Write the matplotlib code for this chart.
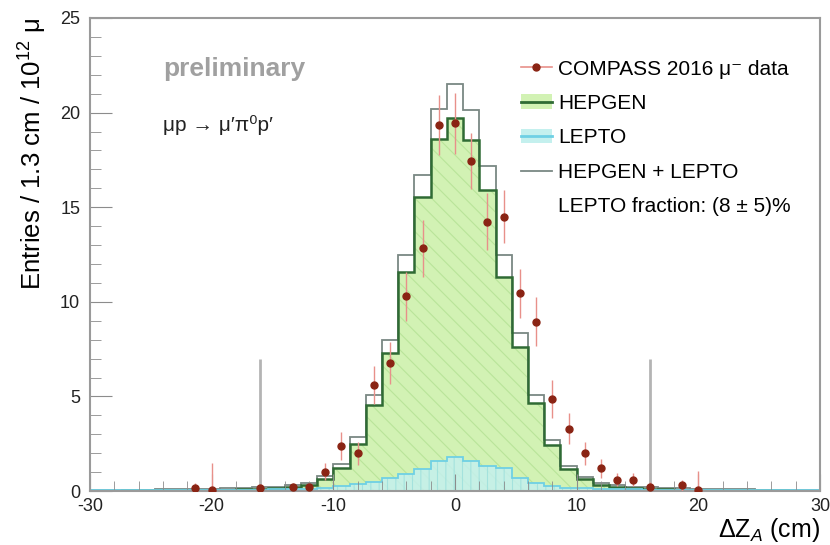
import numpy as np
import matplotlib
matplotlib.use("Agg")
import matplotlib.pyplot as plt
from matplotlib.lines import Line2D
from matplotlib.patches import Patch
from matplotlib.ticker import MultipleLocator

plt.rcParams['font.family'] = ['Liberation Sans', 'DejaVu Sans']
plt.rcParams['mathtext.fontset'] = 'custom'
plt.rcParams['mathtext.rm'] = 'Liberation Sans'
plt.rcParams['mathtext.it'] = 'Liberation Sans:italic'
plt.rcParams['axes.unicode_minus'] = False
plt.rcParams['hatch.linewidth'] = 0.8

# 45 bins over -30..30 cm (about 1.3 cm each)
edges = np.linspace(-30, 30, 46)
centers = 0.5 * (edges[1:] + edges[:-1])

hepgen = [0.02, 0.02, 0.03, 0.03, 0.04, 0.05, 0.05, 0.06, 0.08, 0.10, 0.12, 0.15, 0.20,
          0.30, 0.62, 1.20, 2.50, 4.55, 7.30, 11.55, 15.55, 18.60, 19.70, 18.55, 15.90,
          11.30, 7.63, 4.63, 2.43, 1.15, 0.62, 0.30, 0.20, 0.15, 0.12, 0.10, 0.08, 0.06,
          0.05, 0.05, 0.04, 0.03, 0.03, 0.02, 0.02]
lepto = [0.03, 0.04, 0.04, 0.05, 0.05, 0.06, 0.06, 0.07, 0.07, 0.08, 0.08, 0.09, 0.10,
         0.12, 0.15, 0.25, 0.35, 0.50, 0.70, 0.90, 1.15, 1.60, 1.80, 1.60, 1.30,
         1.20, 0.70, 0.45, 0.25, 0.17, 0.14, 0.12, 0.10, 0.09, 0.08, 0.08, 0.07, 0.07,
         0.06, 0.06, 0.05, 0.05, 0.04, 0.04, 0.03]
data = [None, None, None, None, None, None, 0.15, 0.08, None, None, 0.15, None, 0.22,
        0.22, 1.02, 2.37, 2.00, 5.62, 6.78, 10.30, 12.83, 19.35, 19.43, 17.44, 14.23,
        14.50, 10.45, 8.95, 4.85, 3.30, 2.00, 1.20, 0.60, 0.60, 0.23, None, 0.30, 0.08,
        None, None, None, None, None, None, None]
data_err = [None, None, None, None, None, None, 0.25, 1.40, None, None, 0.20, None, 0.20,
            0.20, 0.45, 0.75, 0.60, 1.00, 1.10, 1.30, 1.50, 1.60, 1.60, 1.50, 1.50,
            1.40, 1.30, 1.30, 1.00, 0.80, 0.60, 0.50, 0.35, 0.35, 0.25, None, 0.30, 1.00,
            None, None, None, None, None, None, None]
cut_pos = [-16, 16]
cut_height = 7.0

hepgen = np.array(hepgen)
lepto = np.array(lepto)
total = hepgen + lepto
d = np.array([np.nan if v is None else v for v in data])
de = np.array([np.nan if v is None else v for v in data_err])
ok = ~np.isnan(d)

c_hep_fill = '#d2f2b4'
c_hep_line = '#2f6b34'
c_lep_fill = '#c4f0ee'
c_lep_line = '#6fd0e4'
c_tot = '#7a8884'
c_mark = '#8a2414'
c_err = '#e8908a'

fig = plt.figure(figsize=(8.3, 5.45), dpi=100)
ax = fig.add_axes([0.1084, 0.099, 0.8796, 0.868])

ax.stairs(hepgen, edges, fill=True, facecolor=c_hep_fill, edgecolor='#b9e49a',
          hatch='\\\\', linewidth=0)
ax.stairs(lepto, edges, fill=True, facecolor=c_lep_fill, edgecolor='#9ee0dc',
          hatch='||', linewidth=0, alpha=0.85)
ax.stairs(total, edges, color=c_tot, linewidth=1.3)
ax.stairs(hepgen, edges, color=c_hep_line, linewidth=1.8)
ax.stairs(lepto, edges, color=c_lep_line, linewidth=1.3)

ax.vlines(cut_pos, 0, cut_height, color='#b4b4b4', linewidth=2)

ax.errorbar(centers[ok], d[ok], yerr=de[ok], fmt='o', color=c_err, elinewidth=1.0,
            capsize=0, mfc=c_mark, mec=c_mark, ms=5, zorder=5)

ax.set_xlim(-30, 30)
ax.set_ylim(0, 25)
ax.xaxis.set_major_locator(MultipleLocator(10))
ax.xaxis.set_minor_locator(MultipleLocator(2))
ax.yaxis.set_major_locator(MultipleLocator(5))
ax.yaxis.set_minor_locator(MultipleLocator(1))
ax.tick_params(which='both', direction='in', color='#8c8c8c', labelcolor='#222222',
               labelsize=13, top=False, right=False)
ax.tick_params(axis='y', which='major', length=16, pad=7)
ax.tick_params(axis='y', which='minor', length=8)
ax.tick_params(axis='x', which='major', length=12, pad=5)
ax.tick_params(axis='x', which='minor', length=7)
for s in ax.spines.values():
    s.set_color('#9a9a9a')
    s.set_linewidth(1.5)

ax.set_xlabel(r'$\Delta\mathrm{Z}_{A}$ (cm)', fontsize=18, loc='right', labelpad=1)
ax.set_ylabel(r'Entries / 1.3 cm / 10$^{12}$ μ', fontsize=18.5, loc='top', labelpad=8)

ax.text(0.1, 0.892, 'preliminary', transform=ax.transAxes, fontsize=19,
        fontweight='bold', color='#a0a0a0', va='center')
ax.text(0.1, 0.773, "μp → μ′π⁰p′", transform=ax.transAxes, fontsize=15,
        color='#222222', va='center')

handles = [
    Line2D([], [], color=c_err, lw=1.2, marker='o', mfc=c_mark, mec=c_mark, ms=5),
    (Patch(facecolor=c_hep_fill, edgecolor='none'), Line2D([], [], color=c_hep_line, lw=2)),
    (Patch(facecolor=c_lep_fill, edgecolor='none'), Line2D([], [], color=c_lep_line, lw=2)),
    Line2D([], [], color=c_tot, lw=1.3),
    Line2D([], [], alpha=0),
]
labels = ['COMPASS 2016 μ⁻ data', 'HEPGEN', 'LEPTO', 'HEPGEN + LEPTO',
          'LEPTO fraction: (8 ± 5)%']
ax.legend(handles, labels, loc='upper left', bbox_to_anchor=(0.59, 0.912),
          frameon=False, fontsize=15, handlelength=1.5, handletextpad=0.3,
          labelspacing=0.74, borderpad=0, borderaxespad=0)

fig.savefig('out.png', dpi=100)
